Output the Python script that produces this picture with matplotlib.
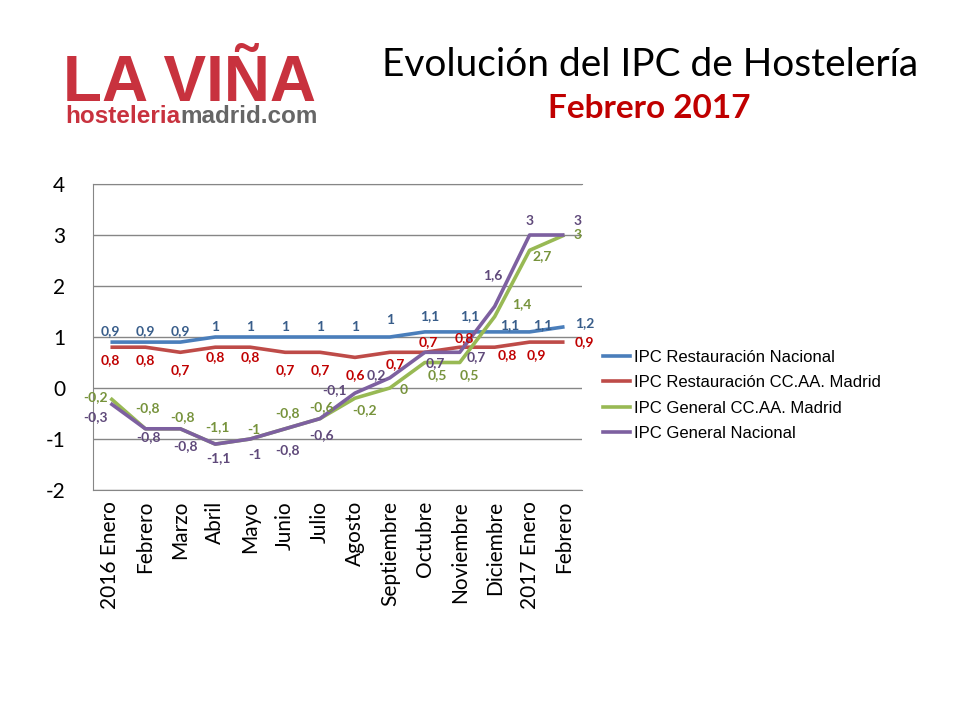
import matplotlib.pyplot as plt
from matplotlib.lines import Line2D

meses = ['2016 Enero', 'Febrero', 'Marzo', 'Abril', 'Mayo', 'Junio', 'Julio', 'Agosto',
         'Septiembre', 'Octubre', 'Noviembre', 'Diciembre', '2017 Enero', 'Febrero']

rest_nacional = [0.9, 0.9, 0.9, 1, 1, 1, 1, 1, 1, 1.1, 1.1, 1.1, 1.1, 1.2]
rest_madrid = [0.8, 0.8, 0.7, 0.8, 0.8, 0.7, 0.7, 0.6, 0.7, 0.7, 0.8, 0.8, 0.9, 0.9]
gen_madrid = [-0.2, -0.8, -0.8, -1.1, -1, -0.8, -0.6, -0.2, 0, 0.5, 0.5, 1.4, 2.7, 3]
gen_nacional = [-0.3, -0.8, -0.8, -1.1, -1, -0.8, -0.6, -0.1, 0.2, 0.7, 0.7, 1.6, 3, 3]

nombres = ['IPC Restauración Nacional', 'IPC Restauración CC.AA. Madrid',
           'IPC General CC.AA. Madrid', 'IPC General Nacional']

# label offsets (pixels) so the labels sit where Excel put them
off_rn = [(0, 11), (0, 11), (0, 11), (0, 10), (0, 10), (0, 10), (0, 10), (0, 10), (0, 17),
          (5, 16), (10, 16), (15, 7), (13, 7), (20, 4)]
off_rm = [(0, -13), (0, -13), (0, -18), (0, -10), (0, -10), (0, -18), (0, -18), (0, -18), (5, -12),
          (3, 10), (5, 9), (13, -8), (7, -13), (20, 0)]
off_gm = [(-15, 1), (2, 21), (2, 12), (2, 17), (4, 9), (2, 16), (2, 12), (10, -12), (14, -2),
          (12, -13), (10, -13), (27, 13), (13, -6), (13, 0)]
off_gn = [(-15, -14), (3, -8), (5, -17), (3, -14), (5, -16), (2, -21), (2, -16), (-20, 3), (-14, 3),
          (10, -11), (17, -5), (-2, 31), (0, 14), (13, 14)]

colores = ['#4a7ebb', '#be4b48', '#98b954', '#7d60a0']
col_txt = ['#385d8a', '#c00000', '#77933c', '#5f497a']

fig = plt.figure(figsize=(9.6, 7.2), dpi=100)
ax = fig.add_axes([93 / 960, 1 - 490 / 720, (582 - 93) / 960, (490 - 184) / 720])

x = range(len(meses))
series = [rest_nacional, rest_madrid, gen_madrid, gen_nacional]
offsets = [off_rn, off_rm, off_gm, off_gn]
for vals, c, ct, offs in zip(series, colores, col_txt, offsets):
    ax.plot(x, vals, color=c, lw=2.6, solid_capstyle='butt', zorder=3)
    for i, v in enumerate(vals):
        txt = ('%g' % v).replace('.', ',')
        ax.annotate(txt, (i, v), xytext=offs[i], textcoords='offset pixels',
                    ha='center', va='center', fontsize=10, fontweight='bold',
                    color=ct, family='Lato', zorder=4)

ax.set_xlim(-0.5, 13.5)
ax.set_ylim(-2, 4)
ax.set_yticks(range(-2, 5))
ax.set_yticklabels([str(v) for v in range(-2, 5)], family='Lato', fontsize=15)
ax.set_xticks(list(x))
ax.set_xticklabels(meses, rotation=90, family='Lato', fontsize=15)
ax.tick_params(length=0, pad=8)
ax.tick_params(axis='y', pad=20)
ax.grid(axis='y', color='#868686', lw=1)
ax.set_axisbelow(True)
for s in ['left', 'top', 'bottom']:
    ax.spines[s].set_color('#868686')
ax.spines['right'].set_visible(False)

handles = [Line2D([], [], color=c, lw=2.6) for c in colores]
fig.legend(handles, nombres, loc='upper left', bbox_to_anchor=(588 / 960, 1 - 335 / 720),
           frameon=False, prop={'family': 'Liberation Sans', 'size': 12},
           handlelength=1.6, handletextpad=0.25, labelspacing=0.62)

# titles
fig.text(650 / 960, 1 - 65 / 720, 'Evolución del IPC de Hostelería', ha='center', va='center',
         family='Lato', fontsize=28, color='black')
fig.text(649 / 960, 1 - 109 / 720, 'Febrero 2017', ha='center', va='center',
         family='Lato', fontsize=24, fontweight='bold', color='#c00000')

# logo
fig.text(63 / 960, 1 - 101 / 720, 'LA VIÑA', ha='left', va='baseline',
         family='Liberation Sans', fontweight='bold', fontsize=46, color='#c8323e')
t1 = fig.text(65 / 960, 1 - 123 / 720, 'hosteleria', ha='left', va='baseline',
              family='Liberation Sans', fontweight='bold', fontsize=17.5, color='#c8323e')
r = fig.canvas.get_renderer()
bb = t1.get_window_extent(renderer=r)
fig.text(bb.x1 / 960, 1 - 123 / 720, 'madrid.com', ha='left', va='baseline',
         family='Liberation Sans', fontweight='bold', fontsize=17.5, color='#666666')

fig.savefig('out.png', dpi=100)
